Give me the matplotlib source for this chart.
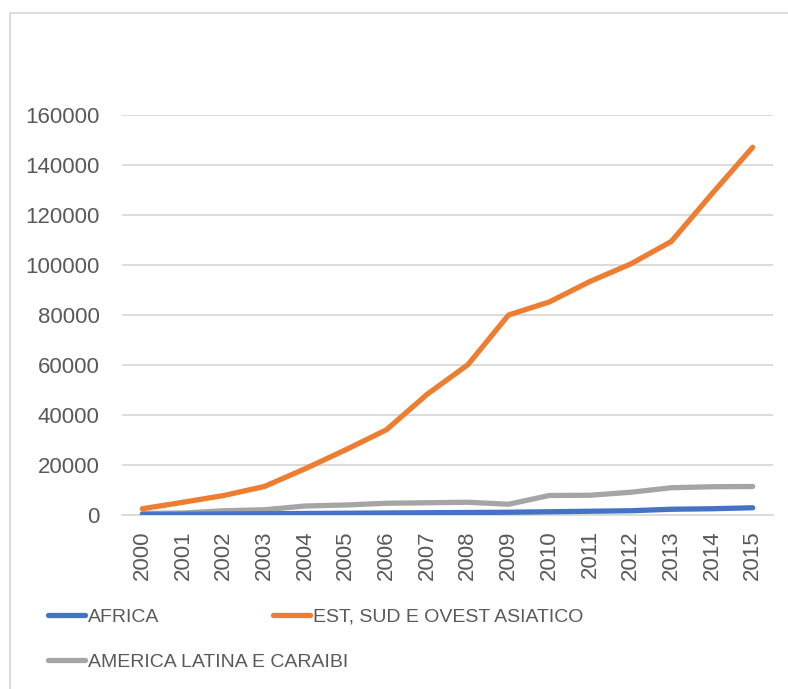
import matplotlib
matplotlib.use('Agg')
import matplotlib.pyplot as plt
from matplotlib.lines import Line2D

# dati
anni = ['2000', '2001', '2002', '2003', '2004', '2005', '2006', '2007',
        '2008', '2009', '2010', '2011', '2012', '2013', '2014', '2015']
africa = [200, 300, 400, 500, 600, 700, 800, 900,
          1000, 1100, 1300, 1500, 1700, 2300, 2500, 2900]
asia = [2500, 5100, 7800, 11400, 18500, 26100, 34100, 48300,
        60100, 80000, 85200, 93400, 100400, 109400, 128500, 147100]
america_latina = [600, 800, 1700, 2100, 3600, 4000, 4700, 4900,
                  5100, 4300, 7800, 7900, 9100, 10900, 11300, 11400]
etichette_y = [0, 20000, 40000, 60000, 80000, 100000, 120000, 140000, 160000]

plt.rcParams['font.family'] = ['Liberation Sans', 'DejaVu Sans']

fig = plt.figure(figsize=(7.88, 6.89), dpi=100)
ax = fig.add_axes([122 / 788, 1 - 515 / 689, 651 / 788, 400 / 689])

x = range(len(anni))
l1, = ax.plot(x, africa, color='#4472C4', lw=3.8, solid_capstyle='round',
              label='AFRICA', zorder=4)
l2, = ax.plot(x, asia, color='#ED7D31', lw=3.8, solid_capstyle='round',
              label='EST, SUD E OVEST ASIATICO', zorder=3)
l3, = ax.plot(x, america_latina, color='#A5A5A5', lw=3.8, solid_capstyle='round',
              label='AMERICA LATINA E CARAIBI', zorder=2)

ax.set_xlim(-0.5, len(anni) - 0.5)
ax.set_ylim(0, 160000)
ax.set_yticks(etichette_y)
ax.set_yticklabels([str(v) for v in etichette_y])
ax.set_xticks(list(x))
ax.set_xticklabels(anni, rotation=90)
ax.tick_params(axis='y', length=0, pad=16, labelsize=16, labelcolor='#595959')
ax.tick_params(axis='x', length=0, pad=11, labelsize=16, labelcolor='#595959')
ax.grid(axis='y', color='#D9D9D9', lw=1.3)
ax.set_axisbelow(True)
for s in ['top', 'right', 'left']:
    ax.spines[s].set_visible(False)
ax.spines['bottom'].set_color('#D9D9D9')
ax.spines['bottom'].set_linewidth(1.3)

# legenda: una voce per posizione, come in Excel
voci = [(l1, 48, 617), (l2, 273, 617), (l3, 48, 662)]
for linea, px, py in voci:
    fig.legend([linea], [linea.get_label()], loc='center left',
               bbox_to_anchor=(px / 788, 1 - py / 689), frameon=False,
               fontsize=14, labelcolor='#595959', handlelength=1.9,
               handletextpad=0.15, borderaxespad=0, borderpad=0)

# cornice del grafico
fig.add_artist(Line2D([9.5 / 788, 9.5 / 788], [0, 1 - 13 / 689], color='#D9D9D9', lw=1.3))
fig.add_artist(Line2D([9.5 / 788, 1], [1 - 13 / 689, 1 - 13 / 689], color='#D9D9D9', lw=1.3))

fig.savefig('out.png', dpi=100)
